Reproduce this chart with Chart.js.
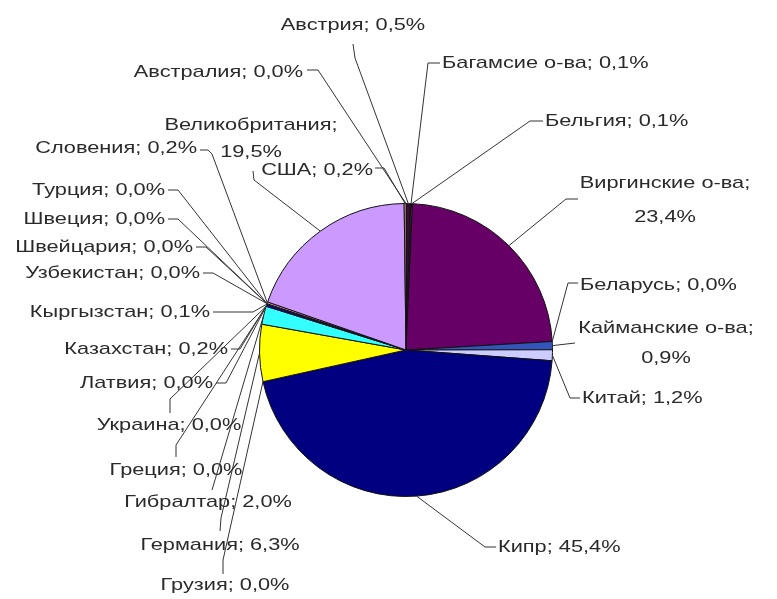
<!DOCTYPE html>
<html>
<head>
<meta charset="utf-8">
<script src="https://cdn.jsdelivr.net/npm/chart.js@4/dist/chart.umd.min.js"></script>
<style>
  html, body { margin: 0; padding: 0; background: #ffffff; }
  #wrap { width: 777px; height: 599px; }
</style>
</head>
<body>
<div id="wrap"><canvas id="c" width="777" height="599"></canvas></div>
<script>
// ---- data ----
const categories = [
  'Австрия', 'Багамсие о-ва', 'Бельгия', 'Виргинские о-ва', 'Беларусь',
  'Кайманские о-ва', 'Китай', 'Кипр', 'Грузия', 'Германия', 'Гибралтар',
  'Греция', 'Украина', 'Латвия', 'Казахстан', 'Кыргызстан', 'Узбекистан',
  'Швейцария', 'Швеция', 'Турция', 'Словения', 'Великобритания', 'США', 'Австралия'
];
const shares = [
  0.5, 0.1, 0.1, 23.4, 0.0,
  0.9, 1.2, 45.4, 0.0, 6.3, 2.0,
  0.0, 0.0, 0.0, 0.2, 0.1, 0.0,
  0.0, 0.0, 0.0, 0.2, 19.5, 0.2, 0.0
];

// ---- styles ----
const sliceColors = [
  '#3a0a3a', '#993366', '#ffffcc', '#660066', '#ff8080',
  '#3355bb', '#ccccff', '#000080', '#ff00ff', '#ffff00', '#33ffff',
  '#800080', '#800000', '#008080', '#0000ff', '#00ccff', '#ccffff',
  '#ccffcc', '#ffff99', '#99ccff', '#ff99cc', '#cc99ff', '#ffcc99', '#3366ff'
];

// ---- label layout: [x, y, align, twoLine] ----
const labelLayout = [
  [353, 25, 'center', false],
  [442, 63, 'left', false],
  [545, 121, 'left', false],
  [665, 183, 'center', true],
  [580, 285, 'left', false],
  [666, 328, 'center', true],
  [582, 398, 'left', false],
  [498, 547, 'left', false],
  [225, 585, 'center', false],
  [220, 545, 'center', false],
  [208, 502, 'center', false],
  [176, 470, 'center', false],
  [169, 425, 'center', false],
  [213, 383, 'right', false],
  [228, 349, 'right', false],
  [210, 312, 'right', false],
  [200, 273, 'right', false],
  [193, 247, 'right', false],
  [165, 219, 'right', false],
  [165, 190, 'right', false],
  [197, 148, 'right', false],
  [251, 125, 'center', true],
  [373, 170, 'right', false],
  [303, 72, 'right', false]
];
// leader line start points (label side); last point is the slice rim
const leaderLayout = [
  [[353, 44], [355, 58]],
  [[440, 63], [428, 63]],
  [[543, 121], [530, 121]],
  [[578, 199], [566, 199]],
  [[578, 283], [568, 283]],
  [[575, 343]],
  [[580, 398], [570, 398]],
  [[496, 547], [485, 547]],
  [[223, 574], [223, 560]],
  [[220, 531], [221, 518]],
  [[212, 490]],
  [[176, 457], [176, 445]],
  [[170, 413], [170, 399]],
  [[216, 383], [226, 383]],
  [[231, 349], [240, 349]],
  [[213, 312], [253, 312]],
  [[203, 273], [213, 273]],
  [[196, 247], [206, 247]],
  [[168, 219], [178, 219]],
  [[168, 190], [178, 190]],
  [[200, 150], [208, 150], [212, 154]],
  [[253, 171], [254, 180]],
  [[375, 168], [384, 168]],
  [[307, 70], [318, 70]]
];

const fmt = v => v.toFixed(1).replace('.', ',') + '%';

const leaderPlugin = {
  id: 'leaders',
  afterDraw(chart) {
    const ctx = chart.ctx;
    const meta = chart.getDatasetMeta(0);
    ctx.save();
    ctx.strokeStyle = '#333333';
    ctx.lineWidth = 1;
    meta.data.forEach((arc, i) => {
      const p = arc.getProps(['x', 'y', 'startAngle', 'endAngle', 'outerRadius'], true);
      const mid = (p.startAngle + p.endAngle) / 2;
      const ex = p.x + Math.cos(mid) * p.outerRadius;
      const ey = p.y + Math.sin(mid) * p.outerRadius;
      const pts = leaderLayout[i];
      ctx.beginPath();
      ctx.moveTo(pts[0][0], pts[0][1]);
      for (let k = 1; k < pts.length; k++) ctx.lineTo(pts[k][0], pts[k][1]);
      ctx.lineTo(ex, ey);
      ctx.stroke();
    });
    ctx.fillStyle = '#2a2a2a';
    ctx.font = '17px "Liberation Sans", Arial, sans-serif';
    ctx.textBaseline = 'middle';
    const sx = 1.28;
    categories.forEach((name, i) => {
      const [x, y, align, two] = labelLayout[i];
      ctx.textAlign = align;
      const lines = two ? [name + ';', fmt(shares[i])] : [name + '; ' + fmt(shares[i])];
      lines.forEach((t, k) => {
        const yy = two ? (k === 0 ? y : y + (i === 5 ? 30 : (i === 21 ? 27 : 34))) : y;
        ctx.save();
        ctx.translate(x, yy);
        ctx.scale(sx, 1);
        ctx.fillText(t, 0, 0);
        ctx.restore();
      });
    });
    ctx.restore();
  }
};

new Chart(document.getElementById('c'), {
  type: 'pie',
  data: {
    labels: categories,
    datasets: [{
      data: shares,
      backgroundColor: sliceColors,
      borderColor: '#111111',
      borderWidth: 1
    }]
  },
  options: {
    responsive: false,
    animation: false,
    layout: { padding: { left: 259, right: 224, top: 203, bottom: 102 } },
    plugins: {
      legend: { display: false },
      tooltip: { enabled: false }
    }
  },
  plugins: [leaderPlugin]
});
</script>
</body>
</html>
